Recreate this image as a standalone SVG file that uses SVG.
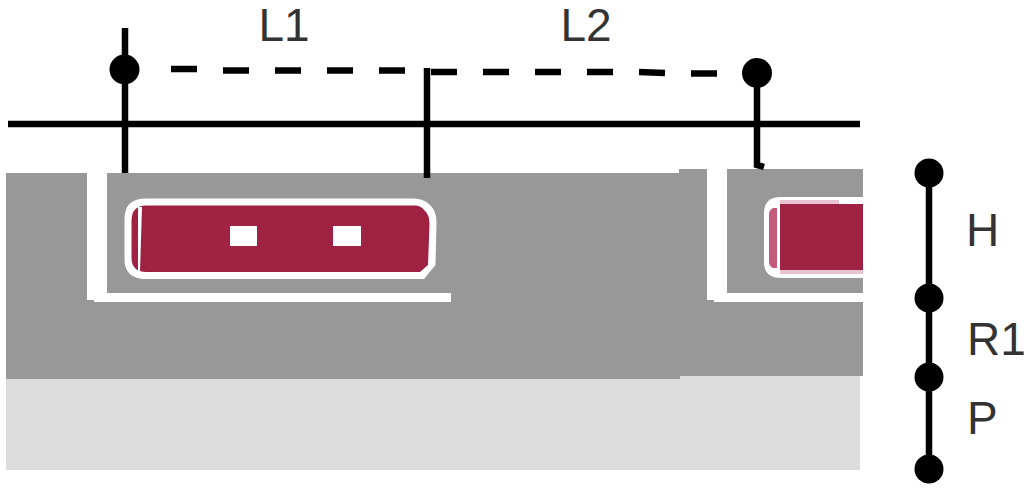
<svg xmlns="http://www.w3.org/2000/svg" width="1024" height="494" viewBox="0 0 1024 494">
<style>
.g{fill:#989899}.lg{fill:#dcdcdc}.w{fill:#fff}.r{fill:#9f2243}
.ln{stroke:#000;stroke-width:6.5;fill:none}
.d{fill:#000}
text{font-family:"Liberation Sans",Arial,sans-serif;font-size:46px;fill:#333}
</style>
<rect width="1024" height="494" class="w"/>
<g id="substrate">
<rect class="lg" x="6" y="376" width="854" height="94"/>
<rect class="g" x="6" y="173" width="674" height="206"/>
<rect class="g" x="679" y="169" width="184" height="207"/>
</g>
<g id="gate-left">
<path class="w" d="M87 173H107V293H451V302H94V300H87Z"/>
<path class="w" d="M146 198.500H414Q424 198.500 430 205Q436.500 211 436.500 222L435.500 265L424 279H146Q124 279 124.500 258V219Q124.500 198.500 146 198.500Z"/>
<path class="r" d="M146 205.500H415Q421 205.500 424 210Q429.500 214 429.500 224L428 265L420 272H146Q131 272 131.500 256V221Q131.500 205.500 146 205.500Z"/>
<path class="w" d="M138 207H142L140 271H138Z"/>
<rect class="w" x="230" y="226" width="27" height="20"/>
<rect class="w" x="333" y="226" width="28" height="20"/>
</g>
<g id="gate-right">
<path class="w" d="M707 169H727V293H863V302H714V300H707Z"/>
<path class="w" d="M781 197H863V278H781Q764 278 764 262V213Q764 197 781 197Z"/>
<path fill="#c35a78" d="M777 208H773Q769 210 769 214V262Q769 266 773 268H777Z"/>
<rect fill="#e9c3cf" x="780" y="200" width="59" height="4"/>
<rect fill="#e9c3cf" x="780" y="270" width="83" height="4"/>
<rect class="r" x="780" y="204" width="83" height="66"/>
</g>
<g id="connectors">
<path class="ln" d="M8 124H860"/>
<path class="ln" d="M125 28V173"/>
<path class="ln" d="M427 68V178"/>
<path class="ln" d="M757 73V165L764 167"/>
<path class="ln" d="M171 69H197M223 70.500H249M275 70.500H301M327 70.500H353M379 70.500H405M431 72H457M483 72H509M535 72H561M587 72H613M639 72L665 73M691 73.500H717"/>
<path class="ln" d="M929 173V469"/>
</g>
<g id="node-a"><circle class="d" cx="124.500" cy="69.500" r="15"/></g>
<g id="node-b"><circle class="d" cx="757" cy="73" r="15"/></g>
<g id="node-h-top"><circle class="d" cx="929" cy="173" r="14.500"/></g>
<g id="node-h-r1"><circle class="d" cx="929" cy="298" r="14.500"/></g>
<g id="node-r1-p"><circle class="d" cx="929" cy="377" r="14.500"/></g>
<g id="node-p-bottom"><circle class="d" cx="929" cy="469" r="14.500"/></g>
<g id="labels">
<text x="258.500" y="41">L1</text>
<text x="560.500" y="41">L2</text>
<text x="966" y="246">H</text>
<text x="967" y="354.500">R1</text>
<text x="967" y="433.500">P</text>
</g>
</svg>
